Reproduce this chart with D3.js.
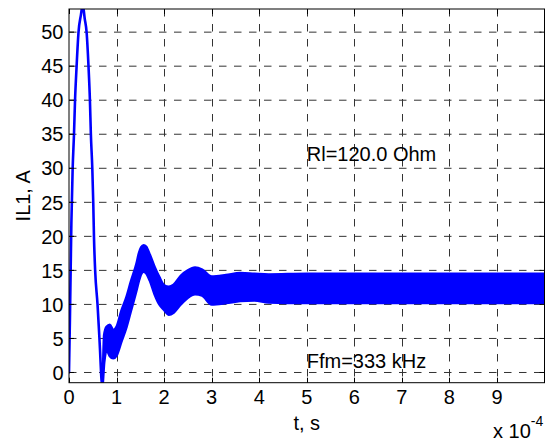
<!DOCTYPE html>
<html lang="en">
<head>
    <meta charset="UTF-8">
    <title>IL1</title>
    <script src="https://d3js.org/d3.v7.min.js"></script>
<style>
    body { margin: 0; background: #fff; }
    svg { display: block; font-family: "Liberation Sans", Arial, sans-serif; }
</style>
</head>
<body>
    <div class="container"></div>
</body>

<script>
    // time in units of 1e-4 s, current in A
    // the ripple band is given by its lower / upper envelope
    const tVals = [0, 0.02, 0.05, 0.077, 0.105, 0.127, 0.16, 0.2, 0.25, 0.29,
        0.33, 0.37, 0.41, 0.44, 0.46, 0.49, 0.51, 0.525, 0.55, 0.6, 0.64, 0.7,
        0.74, 0.79, 0.86, 0.93, 1.0, 1.1, 1.21, 1.3, 1.42, 1.47, 1.52, 1.57, 1.62, 1.7, 1.8,
        1.9, 2.0, 2.1, 2.2, 2.35, 2.5, 2.65, 2.8, 3.0, 3.3, 3.6, 3.9, 4.2, 5, 6, 7, 8, 9, 10];
    const lowVals = [0, 8, 22, 30, 35, 40, 45, 50, 52.5, 54,
        52, 50, 45, 40, 35, 30, 25, 20, 15, 10, 5, -2,
        1.5, 3.3, 2.4, 2.1, 2.5, 4.5, 6.7, 9, 12.1, 13.5, 14.5, 14.8, 14.6, 13.5, 11.5,
        10, 9.2, 8.5, 8.8, 10, 11, 11.5, 11.3, 10.0, 10.2, 10.5, 10.6, 10.3, 10.2, 10.2, 10.2, 10.2, 10.2, 10.2];
    const highVals = [0, 8, 22, 30, 35, 40, 45, 50, 52.5, 54,
        52, 50, 45, 40, 35, 30, 25, 20, 15, 10, 5, -2,
        5.5, 6.7, 7.0, 6.2, 6.7, 9, 11.1, 13.3, 16, 17.5, 18.4, 18.7, 18.5, 17.3, 15.5,
        14, 12.8, 12.6, 12.9, 14.2, 15, 15.4, 15.1, 14.1, 14.3, 14.6, 14.5, 14.4, 14.5, 14.5, 14.5, 14.5, 14.5, 14.5];

    const xTicks = [0, 1, 2, 3, 4, 5, 6, 7, 8, 9];
    const yTicks = [0, 5, 10, 15, 20, 25, 30, 35, 40, 45, 50];
    const xDomain = [0, 10];
    const yDomain = [-1.5, 53.4];

    const notes = [
        { t: 5.0, v: 31.1, text: "Rl=120.0 Ohm" },
        { t: 5.0, v: 0.6, text: "Ffm=333 kHz" }
    ];

    const W = 551, H = 443;
    const margin = { top: 9, right: 6.5, bottom: 60.3, left: 69 };
    const width = W - margin.left - margin.right;
    const height = H - margin.top - margin.bottom;

    const svg = d3.select(".container")
        .append("svg")
        .attr("width", W)
        .attr("height", H);

    svg.append("rect").attr("width", W).attr("height", H).attr("fill", "#fff");

    const g = svg.append("g")
        .attr("transform", `translate(${margin.left},${margin.top})`);

    const x = d3.scaleLinear().domain(xDomain).range([0, width]);
    const y = d3.scaleLinear().domain(yDomain).range([height, 0]);

    // grid
    const grid = g.append("g").attr("stroke", "#333").attr("stroke-width", 1)
        .attr("stroke-dasharray", "7.5,7.5");
    grid.selectAll(".gx")
        .data(xTicks.filter(d => d > 0))
        .join("line")
        .attr("x1", d => Math.round(x(d)) + 0.5).attr("x2", d => Math.round(x(d)) + 0.5)
        .attr("y1", 0).attr("y2", height);
    grid.selectAll(".gy")
        .data(yTicks)
        .join("line")
        .attr("x1", 0).attr("x2", width)
        .attr("y1", d => y(d)).attr("y2", d => y(d));

    // data
    g.append("clipPath").attr("id", "clip")
        .append("rect").attr("width", width).attr("height", height);

    const rows = tVals.map((t, i) => ({ t: t, lo: lowVals[i], hi: highVals[i] }));

    const area = d3.area()
        .curve(d3.curveMonotoneX)
        .x(d => x(d.t))
        .y0(d => y(d.lo))
        .y1(d => y(d.hi));

    g.append("path")
        .datum(rows)
        .attr("clip-path", "url(#clip)")
        .attr("d", area)
        .attr("fill", "#0000ff")
        .attr("stroke", "#0000ff")
        .attr("stroke-width", 2.6)
        .attr("stroke-linejoin", "round");

    // axes box and ticks (inside, all four sides)
    const tk = 5;
    const axisG = g.append("g").attr("stroke", "#000").attr("stroke-width", 1);
    axisG.append("rect")
        .attr("x", 0).attr("y", 0).attr("width", width).attr("height", height)
        .attr("fill", "none");
    xTicks.forEach(d => {
        const px = Math.round(x(d)) + 0.5;
        axisG.append("line").attr("x1", px).attr("x2", px).attr("y1", height).attr("y2", height - tk);
        axisG.append("line").attr("x1", px).attr("x2", px).attr("y1", 0).attr("y2", tk);
    });
    yTicks.forEach(d => {
        axisG.append("line").attr("x1", 0).attr("x2", tk).attr("y1", y(d)).attr("y2", y(d));
        axisG.append("line").attr("x1", width).attr("x2", width - tk).attr("y1", y(d)).attr("y2", y(d));
    });

    // tick labels
    const fs = 20;
    g.selectAll(".xl")
        .data(xTicks)
        .join("text")
        .attr("x", d => x(d))
        .attr("y", height + 21.5)
        .attr("text-anchor", "middle")
        .attr("font-size", fs)
        .attr("fill", "#000")
        .text(d => d);
    g.selectAll(".yl")
        .data(yTicks)
        .join("text")
        .attr("x", -5.5)
        .attr("y", d => y(d))
        .attr("dy", "0.36em")
        .attr("text-anchor", "end")
        .attr("font-size", fs)
        .attr("fill", "#000")
        .text(d => d);

    // axis labels
    svg.append("text")
        .attr("x", margin.left + width / 2)
        .attr("y", 429.5)
        .attr("text-anchor", "middle")
        .attr("font-size", fs)
        .text("t, s");

    svg.append("text")
        .attr("transform", `translate(29.5,${margin.top + height / 2}) rotate(-90)`)
        .attr("text-anchor", "middle")
        .attr("font-size", fs)
        .text("IL1, A");

    // exponent
    const ex = svg.append("text")
        .attr("x", 493)
        .attr("y", 437.5)
        .attr("font-size", fs);
    ex.append("tspan").text("x 10");
    ex.append("tspan").attr("font-size", 14).attr("dy", -12).text("-4");

    // annotations
    g.selectAll(".note")
        .data(notes)
        .join("text")
        .attr("x", d => x(d.t))
        .attr("y", d => y(d.v))
        .attr("font-size", fs)
        .attr("fill", "#000")
        .text(d => d.text);
</script>
</html>
